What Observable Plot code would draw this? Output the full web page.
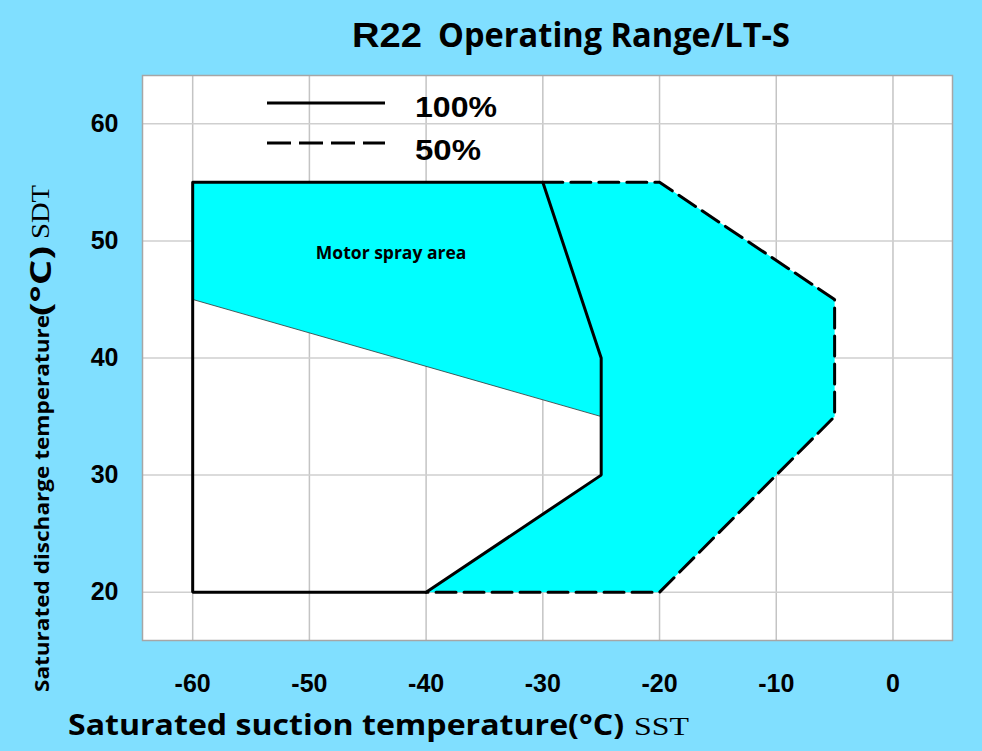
<!DOCTYPE html>
<html>
<head>
<meta charset="utf-8">
<script src="https://cdn.jsdelivr.net/npm/d3@7"></script>
<script src="https://cdn.jsdelivr.net/npm/@observablehq/plot@0.6"></script>
<style>
  html, body { margin: 0; padding: 0; background: #80dfff; }
  #chart svg { display: block; }
</style>
</head>
<body>
<div id="chart"></div>
<script>
// ---- data ----
const titleMain = "R22";
const titleRest = "Operating Range/LT-S";
const xLabelMain = "Saturated suction temperature(°C)";
const xLabelUnit = "SST";
const yLabelMain = "Saturated discharge temperature";
const yLabelDeg = "(°C)";
const yLabelUnit = "SDT";

const xTicks = [-60, -50, -40, -30, -20, -10, 0];
const yTicks = [20, 30, 40, 50, 60];

// 100% capacity envelope (solid)
const sst100 = [-60, -30, -25, -25, -40, -60, -60];
const sdt100 = [55, 55, 40, 30, 20, 20, 55];

// 50% capacity extension (dashed)
const sst50 = [-30, -20, -5, -5, -20, -40];
const sdt50 = [55, 55, 45, 35, 20, 20];

// shaded (cyan) region: motor spray area + 50% extension
const sstShade = [-60, -20, -5, -5, -20, -40, -25, -25, -60];
const sdtShade = [55, 55, 45, 35, 20, 20, 30, 35, 45];

// lower boundary of motor spray area
const sstSpray = [-60, -25];
const sdtSpray = [45, 35];

const sprayLabel = [{text: "Motor spray area", sst: -43, sdt: 48.9}];
const legendLabels = ["100%", "50%"];

// ---- build ----
const toPts = (xs, ys) => xs.map((x, i) => ({x, y: ys[i]}));
const poly100 = toPts(sst100, sdt100);
const poly50 = toPts(sst50, sdt50);
const shade = toPts(sstShade, sdtShade);
const spray = toPts(sstSpray, sdtSpray);

const svg = Plot.plot({
  width: 982,
  height: 751,
  marginLeft: 142,
  marginRight: 30,
  marginTop: 75,
  marginBottom: 111,
  style: {background: "#80dfff", fontFamily: "'Liberation Sans', Arial, sans-serif", color: "black", overflow: "visible"},
  x: {domain: [-64.3, 5.1]},
  y: {domain: [15.88, 64.12]},
  marks: [
    Plot.frame({fill: "white", stroke: "none"}),
    Plot.ruleX(xTicks, {stroke: "#c4c4c4", strokeWidth: 1.5}),
    Plot.ruleY(yTicks, {stroke: "#cfcfcf", strokeWidth: 1.5}),
    Plot.frame({stroke: "#a6a6a6", strokeWidth: 1.5}),
    Plot.line(shade, {x: "x", y: "y", fill: "#00ffff", stroke: "none"}),
    Plot.line(spray, {x: "x", y: "y", stroke: "#333", strokeWidth: 0.8}),
    Plot.line(poly100, {x: "x", y: "y", stroke: "black", strokeWidth: 3, strokeLinejoin: "miter"}),
    Plot.line(poly50, {x: "x", y: "y", stroke: "black", strokeWidth: 3, strokeDasharray: "20,8", strokeLinejoin: "miter"}),
    Plot.text(sprayLabel, {x: "sst", y: "sdt", text: "text", fontSize: 17.5, fontWeight: "bold", fontFamily: "'Open Sans', sans-serif", fill: "black"}),
    Plot.axisX(xTicks, {tickSize: 0, tickPadding: 34, fontSize: 25, fontWeight: "bold", label: null, tickFormat: d => String(d)}),
    Plot.axisY(yTicks, {tickSize: 0, tickPadding: 24, fontSize: 25, fontWeight: "bold", label: null, tickFormat: d => String(d)})
  ]
});

const s = d3.select(svg);
const addText = (parent, x, y, str, opts) => {
  const t = parent.append("text").attr("x", x).attr("y", y).attr("text-anchor", "start")
    .attr("fill", "black").attr("font-family", opts.family).attr("font-size", opts.size)
    .attr("font-weight", opts.weight || "normal").text(str);
  if (opts.len) t.attr("textLength", opts.len).attr("lengthAdjust", "spacingAndGlyphs");
  return t;
};
const SANS = "'Liberation Sans', Arial, sans-serif";
const OPEN = "'Open Sans', sans-serif";
const SERIF = "'Liberation Serif', 'Times New Roman', serif";

// title
addText(s, 352, 47, titleMain, {family: SANS, size: 35, weight: "bold", len: 70});
addText(s, 438, 47, titleRest, {family: OPEN, size: 34, weight: "bold", len: 352});

// x label
addText(s, 68, 735, xLabelMain, {family: OPEN, size: 29, weight: "bold", len: 556});
addText(s, 634, 735, xLabelUnit, {family: SERIF, size: 26, len: 55});

// y label (rotated)
const gy = s.append("g").attr("transform", "translate(49,0) rotate(-90)");
addText(gy, -692, 0, yLabelMain, {family: OPEN, size: 20, weight: "bold", len: 377});
addText(gy, -316, 2, yLabelDeg, {family: OPEN, size: 28, weight: "bold", len: 70});
addText(gy, -239, 0, yLabelUnit, {family: SERIF, size: 25, len: 54});

// legend
const lg = s.append("g");
lg.append("line").attr("x1", 267).attr("x2", 385).attr("y1", 103).attr("y2", 103)
  .attr("stroke", "black").attr("stroke-width", 3);
lg.append("line").attr("x1", 267).attr("x2", 385).attr("y1", 143).attr("y2", 143)
  .attr("stroke", "black").attr("stroke-width", 3).attr("stroke-dasharray", "24,8");
addText(lg, 415, 117, legendLabels[0], {family: SANS, size: 29, weight: "bold", len: 82});
addText(lg, 415, 160, legendLabels[1], {family: SANS, size: 29, weight: "bold", len: 66});

document.getElementById("chart").appendChild(svg);
</script>
</body>
</html>
